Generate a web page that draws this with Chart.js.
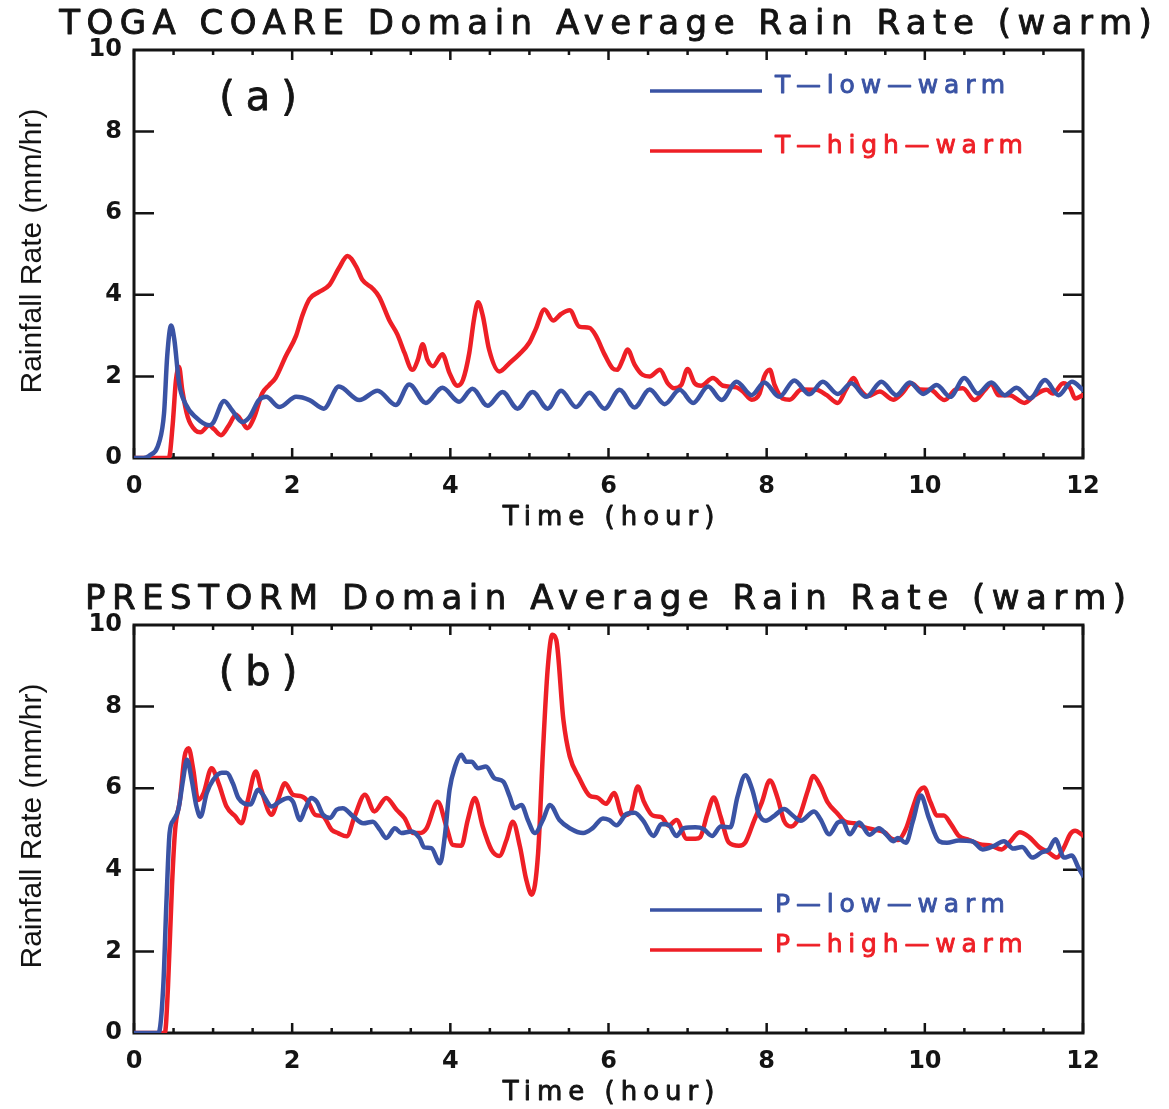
<!DOCTYPE html>
<html>
<head>
<meta charset="utf-8">
<script src="https://cdn.jsdelivr.net/npm/chart.js@4/dist/chart.umd.min.js"></script>
<style>
body { margin: 0; background: #fff; }
.panel { position: absolute; left: 0; width: 1169px; height: 534px; }
</style>
</head>
<body>
<div class="panel" style="top:0"><canvas id="chartA"></canvas></div>
<div class="panel" style="top:575px"><canvas id="chartB"></canvas></div>
<script>
// [time (hour), rain rate (mm/hr)]
const tLowWarm = [[0,0],[0.12,0],[0.19,0.05],[0.32,0.4],[0.38,1.1],[0.42,2.5],[0.47,3.25],[0.51,2.9],[0.57,1.83],[0.65,1.33],[0.78,1.0],[0.95,0.8],[1.0,0.86],[1.14,1.4],[1.24,1.17],[1.37,0.88],[1.46,1.0],[1.58,1.42],[1.67,1.5],[1.84,1.25],[2.05,1.5],[2.22,1.42],[2.4,1.21],[2.59,1.75],[2.85,1.42],[3.08,1.65],[3.31,1.3],[3.48,1.8],[3.69,1.35],[3.9,1.72],[4.11,1.38],[4.28,1.7],[4.47,1.28],[4.66,1.62],[4.85,1.21],[5.04,1.62],[5.23,1.21],[5.4,1.65],[5.59,1.25],[5.76,1.6],[5.95,1.21],[6.14,1.67],[6.33,1.24],[6.52,1.68],[6.71,1.32],[6.9,1.67],[7.07,1.35],[7.26,1.75],[7.43,1.42],[7.62,1.87],[7.81,1.54],[7.97,1.85],[8.16,1.5],[8.35,1.9],[8.54,1.56],[8.71,1.87],[8.9,1.57],[9.07,1.83],[9.26,1.5],[9.45,1.87],[9.64,1.54],[9.81,1.85],[9.98,1.57],[10.15,1.79],[10.32,1.5],[10.5,1.96],[10.67,1.58],[10.84,1.85],[11.01,1.54],[11.16,1.72],[11.33,1.46],[11.52,1.91],[11.69,1.54],[11.86,1.87],[12,1.67]];

const tHighWarm = [[0,0],[0.44,0],[0.49,0.84],[0.53,1.9],[0.57,2.23],[0.61,1.67],[0.68,1.0],[0.78,0.67],[0.84,0.63],[0.95,0.8],[1.01,0.71],[1.1,0.56],[1.2,0.8],[1.29,1.06],[1.37,0.88],[1.43,0.73],[1.52,1.0],[1.62,1.58],[1.71,1.79],[1.79,1.96],[1.92,2.5],[2.05,3.0],[2.13,3.5],[2.22,3.9],[2.34,4.07],[2.47,4.24],[2.59,4.65],[2.7,4.95],[2.81,4.69],[2.89,4.36],[3.02,4.15],[3.1,3.95],[3.23,3.37],[3.33,3.03],[3.42,2.58],[3.52,2.16],[3.59,2.41],[3.65,2.79],[3.71,2.41],[3.78,2.25],[3.9,2.54],[3.99,2.08],[4.09,1.77],[4.16,1.92],[4.24,2.58],[4.3,3.41],[4.35,3.82],[4.41,3.49],[4.49,2.66],[4.62,2.12],[4.75,2.33],[4.87,2.54],[5.0,2.83],[5.08,3.16],[5.19,3.64],[5.3,3.37],[5.4,3.53],[5.51,3.62],[5.63,3.22],[5.76,3.19],[5.84,3.0],[5.95,2.54],[6.05,2.2],[6.11,2.16],[6.18,2.41],[6.24,2.66],[6.33,2.29],[6.43,2.04],[6.52,2.0],[6.65,2.16],[6.75,1.83],[6.83,1.71],[6.92,1.79],[7.0,2.18],[7.09,1.83],[7.17,1.77],[7.32,1.96],[7.45,1.77],[7.62,1.73],[7.7,1.63],[7.81,1.43],[7.91,1.58],[7.97,2.0],[8.04,2.16],[8.1,1.79],[8.2,1.46],[8.29,1.43],[8.44,1.68],[8.63,1.67],[8.76,1.54],[8.9,1.35],[9.0,1.67],[9.1,1.96],[9.17,1.71],[9.28,1.52],[9.43,1.63],[9.6,1.43],[9.71,1.58],[9.83,1.83],[9.94,1.68],[10.07,1.67],[10.25,1.42],[10.38,1.67],[10.48,1.71],[10.63,1.42],[10.76,1.67],[10.84,1.82],[10.93,1.54],[11.07,1.54],[11.26,1.35],[11.39,1.54],[11.54,1.67],[11.62,1.58],[11.75,1.83],[11.84,1.71],[11.9,1.46],[12,1.54]];

const pLowWarm = [[0,0],[0.31,0],[0.37,1.14],[0.41,3.2],[0.45,4.9],[0.5,5.22],[0.56,5.47],[0.62,6.2],[0.67,6.7],[0.73,6.2],[0.79,5.55],[0.84,5.3],[0.92,5.88],[1.0,6.2],[1.11,6.38],[1.17,6.38],[1.25,6.12],[1.32,5.76],[1.47,5.6],[1.57,5.96],[1.63,5.84],[1.74,5.55],[1.84,5.67],[1.95,5.76],[2.01,5.67],[2.1,5.22],[2.16,5.47],[2.24,5.76],[2.31,5.67],[2.39,5.35],[2.48,5.27],[2.56,5.47],[2.64,5.51],[2.77,5.31],[2.9,5.14],[3.02,5.18],[3.11,4.98],[3.19,4.78],[3.3,5.02],[3.38,4.9],[3.51,4.94],[3.61,4.78],[3.67,4.55],[3.76,4.53],[3.87,4.16],[3.93,4.82],[3.99,5.96],[4.06,6.53],[4.14,6.82],[4.2,6.65],[4.27,6.65],[4.35,6.49],[4.45,6.53],[4.56,6.24],[4.67,6.16],[4.75,5.8],[4.81,5.51],[4.9,5.59],[4.98,5.22],[5.07,4.9],[5.17,5.22],[5.26,5.59],[5.38,5.22],[5.51,5.02],[5.68,4.9],[5.8,5.02],[5.93,5.26],[6.01,5.22],[6.1,5.09],[6.23,5.37],[6.33,5.4],[6.44,5.2],[6.57,4.83],[6.67,5.12],[6.76,5.1],[6.86,4.83],[6.95,5.02],[7.1,5.04],[7.2,5.0],[7.31,4.83],[7.42,5.06],[7.54,5.04],[7.63,5.78],[7.73,6.32],[7.82,5.95],[7.9,5.37],[7.99,5.2],[8.1,5.33],[8.22,5.49],[8.33,5.33],[8.43,5.2],[8.6,5.43],[8.68,5.24],[8.79,4.87],[8.9,5.16],[8.96,5.19],[9.05,4.87],[9.17,5.16],[9.3,4.86],[9.42,5.02],[9.51,4.87],[9.6,4.7],[9.66,4.78],[9.76,4.66],[9.85,5.2],[9.95,5.82],[10.05,5.28],[10.18,4.7],[10.28,4.66],[10.43,4.72],[10.6,4.7],[10.73,4.5],[10.87,4.58],[11.0,4.7],[11.12,4.52],[11.23,4.56],[11.36,4.3],[11.48,4.43],[11.57,4.5],[11.65,4.75],[11.76,4.3],[11.86,4.35],[11.94,4.06],[12,3.86]];

const pHighWarm = [[0,0],[0.39,0],[0.43,1.14],[0.48,3.6],[0.52,4.98],[0.58,5.7],[0.64,6.78],[0.69,6.98],[0.75,6.45],[0.81,5.71],[0.88,5.88],[0.98,6.49],[1.07,6.12],[1.17,5.55],[1.28,5.31],[1.36,5.14],[1.44,5.71],[1.54,6.41],[1.61,5.96],[1.74,5.35],[1.82,5.71],[1.91,6.12],[2.01,5.84],[2.12,5.8],[2.2,5.67],[2.29,5.35],[2.39,5.31],[2.5,4.98],[2.58,4.9],[2.69,4.82],[2.79,5.31],[2.92,5.84],[3.04,5.43],[3.19,5.76],[3.32,5.47],[3.42,5.27],[3.53,4.9],[3.61,4.9],[3.7,5.02],[3.84,5.67],[3.95,5.06],[4.03,4.61],[4.14,4.59],[4.22,5.22],[4.31,5.76],[4.41,5.06],[4.52,4.49],[4.62,4.34],[4.71,4.73],[4.79,5.18],[4.88,4.57],[4.96,3.76],[5.03,3.39],[5.11,4.41],[5.17,6.86],[5.23,8.9],[5.29,9.76],[5.34,9.63],[5.43,7.67],[5.51,6.78],[5.63,6.25],[5.76,5.82],[5.86,5.77],[5.97,5.62],[6.07,5.88],[6.18,5.33],[6.28,5.41],[6.37,6.04],[6.45,5.66],[6.56,5.33],[6.67,5.29],[6.76,5.08],[6.86,5.22],[6.99,4.76],[7.1,4.76],[7.16,4.8],[7.25,5.37],[7.33,5.77],[7.42,5.29],[7.52,4.67],[7.65,4.59],[7.73,4.67],[7.84,5.2],[7.94,5.66],[8.04,6.19],[8.14,5.75],[8.22,5.2],[8.31,5.06],[8.41,5.29],[8.52,5.94],[8.59,6.3],[8.68,6.05],[8.77,5.66],[8.9,5.37],[8.99,5.18],[9.11,5.14],[9.24,5.04],[9.37,4.98],[9.49,4.92],[9.58,4.76],[9.66,4.73],[9.76,5.0],[9.85,5.53],[9.92,5.9],[9.99,6.02],[10.07,5.66],[10.16,5.33],[10.24,5.33],[10.33,5.12],[10.43,4.83],[10.56,4.73],[10.69,4.63],[10.84,4.59],[10.97,4.5],[11.07,4.67],[11.2,4.92],[11.32,4.8],[11.45,4.55],[11.57,4.42],[11.67,4.3],[11.76,4.55],[11.84,4.88],[11.9,4.96],[12,4.84]];

const BLUE = '#3a53a4';
const RED = '#ee1f26';
const INK = '#141414';

// box around the plot with inward tick marks on all four sides
const frame = {
  id: 'frame',
  beforeDatasetsDraw(chart) {
    const { ctx, chartArea: a, scales: { x, y } } = chart;
    ctx.save();
    ctx.strokeStyle = INK;
    ctx.lineWidth = 3;
    ctx.strokeRect(a.left, a.top, a.right - a.left, a.bottom - a.top);
    ctx.lineWidth = 2.5;
    ctx.beginPath();
    for (let t = x.min; t <= x.max + 1e-6; t += 0.5) {
      const px = x.getPixelForValue(t);
      const len = Math.abs(t % 2) < 1e-6 ? 10 : 5;
      ctx.moveTo(px, a.bottom); ctx.lineTo(px, a.bottom - len);
      ctx.moveTo(px, a.top); ctx.lineTo(px, a.top + len);
    }
    for (let v = y.min + 2; v < y.max; v += 2) {
      const py = y.getPixelForValue(v);
      ctx.moveTo(a.left, py); ctx.lineTo(a.left + 20, py);
      ctx.moveTo(a.right, py); ctx.lineTo(a.right - 20, py);
    }
    ctx.stroke();
    ctx.restore();
  }
};

// letter-spaced text, slightly emboldened with a thin outline
function spacedText(ctx, str, x, y, spacing, align, weight) {
  ctx.letterSpacing = spacing + 'px';
  const w = ctx.measureText(str).width - spacing;
  let left = x;
  if (align === 'center') left = x - w / 2;
  ctx.textAlign = 'left';
  ctx.fillText(str, left, y);
  if (weight) {
    ctx.strokeStyle = ctx.fillStyle;
    ctx.lineWidth = weight;
    ctx.lineJoin = 'round';
    ctx.strokeText(str, left, y);
  }
  ctx.letterSpacing = '0px';
}

// panel title, axis titles, panel tag and the line key
const decor = {
  id: 'decor',
  afterDraw(chart, args, opts) {
    const { ctx, chartArea: a } = chart;
    const cx = (a.left + a.right) / 2;
    ctx.save();
    ctx.fillStyle = INK;
    ctx.textBaseline = 'middle';

    ctx.font = '34px "DejaVu Sans"';
    spacedText(ctx, opts.title, cx - 3, a.top - 25, 6.5, 'center', 0.9);

    ctx.font = '26px "DejaVu Sans"';
    spacedText(ctx, 'Time (hour)', cx, a.bottom + 60, 6, 'center', 0.9);

    ctx.font = '40px "DejaVu Sans"';
    spacedText(ctx, opts.tag, a.left + 124, a.top + 50, 11, 'center', 0.8);

    ctx.save();
    ctx.translate(33, (a.top + a.bottom) / 2 - 3);
    ctx.rotate(-Math.PI / 2);
    ctx.font = '30px "Liberation Sans"';
    ctx.textAlign = 'center';
    ctx.fillText('Rainfall Rate (mm/hr)', 0, 0);
    ctx.restore();

    ctx.font = '25px "DejaVu Sans"';
    ctx.textBaseline = 'alphabetic';
    opts.rows.forEach(r => {
      ctx.strokeStyle = r.color;
      ctx.lineWidth = 3.5;
      ctx.beginPath();
      ctx.moveTo(650, r.y);
      ctx.lineTo(762, r.y);
      ctx.stroke();
      ctx.fillStyle = r.color;
      spacedText(ctx, r.text, 775, r.y + 2, 5.8, 'left', 0.9);
    });
    ctx.restore();
  }
};

function toPoints(arr) {
  return arr.map(p => ({ x: p[0], y: p[1] }));
}

function makeChart(id, low, high, title, tag, rows) {
  return new Chart(document.getElementById(id), {
    type: 'line',
    data: {
      datasets: [
        { label: rows[0].text, data: toPoints(low), borderColor: BLUE, borderWidth: 4.5 },
        { label: rows[1].text, data: toPoints(high), borderColor: RED, borderWidth: 4.5 }
      ]
    },
    options: {
      responsive: true,
      maintainAspectRatio: false,
      animation: false,
      elements: {
        point: { radius: 0 },
        line: { cubicInterpolationMode: 'monotone', borderCapStyle: 'round', borderJoinStyle: 'round' }
      },
      layout: { padding: { left: 0, top: 50, right: 86, bottom: 0 } },
      scales: {
        x: {
          type: 'linear', min: 0, max: 12,
          grid: { display: false, drawTicks: false },
          border: { display: false },
          ticks: { stepSize: 2, padding: 14, maxRotation: 0, color: INK,
                   font: { family: 'DejaVu Sans', size: 24, weight: 'bold' } },
          afterFit: s => { s.height = 76; }
        },
        y: {
          min: 0, max: 10,
          grid: { display: false, drawTicks: false },
          border: { display: false },
          ticks: { stepSize: 2, padding: 12, color: INK,
                   font: { family: 'DejaVu Sans', size: 24, weight: 'bold' } },
          afterFit: s => { s.width = 134; }
        }
      },
      plugins: {
        legend: { display: false },
        tooltip: { enabled: false },
        decor: { title: title, tag: tag, rows: rows }
      }
    },
    plugins: [frame, decor]
  });
}

makeChart('chartA', tLowWarm, tHighWarm,
  'TOGA COARE Domain Average Rain Rate (warm)', '(a)',
  [{ text: 'T—low—warm', color: BLUE, y: 91 }, { text: 'T—high—warm', color: RED, y: 151 }]);

makeChart('chartB', pLowWarm, pHighWarm,
  'PRESTORM Domain Average Rain Rate (warm)', '(b)',
  [{ text: 'P—low—warm', color: BLUE, y: 335 }, { text: 'P—high—warm', color: RED, y: 375 }]);
</script>
</body>
</html>
